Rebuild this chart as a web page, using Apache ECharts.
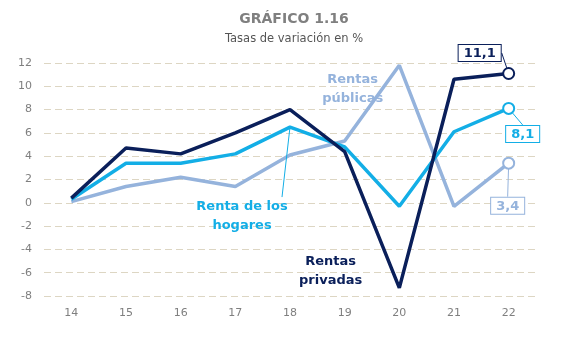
<!DOCTYPE html>
<html>
<head>
<meta charset="utf-8">
<script src="https://cdn.jsdelivr.net/npm/echarts@6/dist/echarts.min.js"></script>
<style>
  html, body { margin: 0; padding: 0; background: #fff; }
  #chart { width: 562px; height: 344px; }
</style>
</head>
<body>
<div id="chart"></div>
<script>
// Years (2014-2022, short form) and annual growth rates, %
const years = ['14', '15', '16', '17', '18', '19', '20', '21', '22'];
const rentasPrivadas = [0.4, 4.7, 4.2, 6.0, 8.0, 4.4, -7.3, 10.6, 11.1];
const rentaHogares   = [0.3, 3.4, 3.4, 4.2, 6.5, 4.8, -0.3, 6.1, 8.1];
const rentasPublicas = [0.1, 1.4, 2.2, 1.4, 4.1, 5.3, 11.8, -0.3, 3.4];
const yTicks = { min: -8, max: 12, interval: 2 };

const NAVY = '#0a1f5a';
const CYAN = '#13aee6';
const PALE = '#95b3dc';
const FONT = 'DejaVu Sans';

const fmt = v => v.toFixed(1).replace('.', ',');

const noteText = color => ({
  show: true, color: color, fontFamily: FONT, fontWeight: 'bold',
  fontSize: 13, lineHeight: 19, align: 'center'
});

// Last point: hollow marker plus boxed value label
function withEndLabel(values, color) {
  return values.map((v, i) => {
    if (i !== values.length - 1) return { value: v, symbol: 'none' };
    return {
      value: v,
      symbol: 'circle',
      symbolSize: 11,
      itemStyle: { color: '#fff', borderColor: color, borderWidth: 2 },
      label: {
        show: true,
        formatter: p => fmt(p.value),
        color: color,
        fontFamily: FONT,
        fontWeight: 'bold',
        fontSize: 13,
        backgroundColor: '#fff',
        borderColor: color,
        borderWidth: 1,
        padding: [2, 5, 1, 5]
      }
    };
  });
}

const chart = echarts.init(document.getElementById('chart'), null, { renderer: 'canvas' });

function lineSeries(name, values, color, endOffset, extra) {
  const data = withEndLabel(values, color);
  if (extra) Object.assign(data[extra.index], extra.item);
  return {
    name: name,
    type: 'line',
    data: data,
    showSymbol: true,
    symbol: 'none',
    lineStyle: { color: color, width: 3.5 },
    itemStyle: { color: color },
    z: 3,
    labelLine: { show: true, lineStyle: { color: color, width: 1 } },
    labelLayout: p => {
      if (p.dataIndex === values.length - 1) return endOffset;
      if (extra && p.dataIndex === extra.index) return extra.layout;
      return {};
    },
    animation: false
  };
}

const option = {
  animation: false,
  title: {
    text: 'GRÁFICO 1.16',
    subtext: 'Tasas de variación en %',
    left: 289,
    top: 7,
    textAlign: 'center',
    itemGap: 7,
    textStyle: { fontFamily: FONT, fontWeight: 'bold', fontSize: 14, color: '#7f7f7f' },
    subtextStyle: { fontFamily: FONT, fontSize: 11.5, color: '#555555' }
  },
  grid: { left: 44, right: 26, top: 63, bottom: 48, containLabel: false },
  xAxis: {
    type: 'category',
    data: years,
    boundaryGap: true,
    axisLine: { show: false },
    axisTick: { show: false },
    axisLabel: { fontFamily: FONT, fontSize: 11, color: '#7f7f7f', margin: 12 }
  },
  yAxis: {
    type: 'value',
    min: yTicks.min,
    max: yTicks.max,
    interval: yTicks.interval,
    axisLine: { show: false },
    axisTick: { show: false },
    axisLabel: { fontFamily: FONT, fontSize: 11, color: '#7f7f7f', margin: 12 },
    splitLine: { lineStyle: { color: '#ddd6c3', type: [7, 4], width: 1 } }
  },
  series: [
    lineSeries('Rentas públicas', rentasPublicas, PALE, { dx: -1, dy: 62 }),
    lineSeries('Renta de los hogares', rentaHogares, CYAN, { dx: 14, dy: 45 }, {
      index: 4,
      item: {
        symbol: 'circle',
        symbolSize: 0.01,
        // extra right padding puts the guide line's anchor near the text's right end
        label: Object.assign(noteText(CYAN), {
          formatter: 'Renta de los\nhogares',
          padding: [0, 80, 0, 0]
        })
      },
      layout: { dx: -8, dy: 113 }
    }),
    Object.assign(lineSeries('Rentas privadas', rentasPrivadas, NAVY, { dx: -29, dy: -1 }), {
      // Text notes naming two of the lines
      markPoint: {
        symbol: 'circle',
        symbolSize: 0,
        silent: true,
        data: [
          { coord: ['19', 9.6], label: Object.assign(noteText(PALE), { formatter: 'Rentas\npúblicas', position: 'inside', offset: [8, -2] }) },
          { coord: ['19', -5.6], label: Object.assign(noteText(NAVY), { formatter: 'Rentas\nprivadas', position: 'inside', offset: [-14, 3] }) }
        ]
      }
    })
  ]
};

chart.setOption(option);
</script>
</body>
</html>
